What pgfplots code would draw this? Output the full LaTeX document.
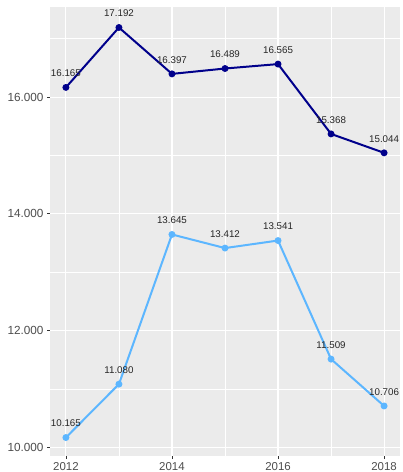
\documentclass[border=0pt]{standalone}
\usepackage{pgfplots}
\pgfplotsset{compat=1.18}
\usepackage{fontspec}
\setmainfont{Liberation Sans}
\definecolor{panel}{HTML}{EBEBEB}
\definecolor{navyline}{HTML}{00008B}
\definecolor{skyline}{HTML}{5CB6FF}
\definecolor{ticklab}{HTML}{4D4D4D}
\definecolor{tickcol}{HTML}{333333}
\begin{document}
\begin{tikzpicture}
\useasboundingbox (-50bp,-16bp) rectangle (353bp,456bp);
\begin{axis}[
  scale only axis,
  width=350bp, height=449bp,
  xmin=2011.7, xmax=2018.3,
  ymin=9.8487, ymax=17.5434,
  axis background/.style={fill=panel},
  axis line style={draw=none},
  xtick={2012,2014,2016,2018},
  minor xtick={2013,2015,2017},
  ytick={10,12,14,16},
  minor ytick={11,13,15,17},
  grid=both,
  major grid style={white, line width=1.1bp},
  minor grid style={white, line width=0.55bp},
  tick style={tickcol, line width=0.6bp},
  minor tick length=0pt,
  major tick length=3bp,
  tick align=outside,
  xtick pos=bottom, ytick pos=left,
  xticklabel style={font=\fontsize{11.5}{11.5}\selectfont, text=ticklab},
  yticklabel style={font=\fontsize{11.8}{11.8}\selectfont, text=ticklab},
  xticklabel={\pgfmathprintnumber[fixed,precision=0,1000 sep={},assume math mode=true]{\tick}},
  yticklabel={\pgfmathprintnumber[fixed,fixed zerofill,precision=3,assume math mode=true]{\tick}},
  nodes near coords={\pgfmathprintnumber[fixed,fixed zerofill,precision=3,assume math mode=true]{\pgfplotspointmeta}},
  every node near coord/.append style={anchor=center, yshift=14bp, font=\fontsize{9.8}{9.8}\selectfont, text=black!85, inner sep=0pt},
  point meta=y,
  clip=false,
]
\addplot[navyline, line width=2bp, mark=*, mark size=2.4bp, mark options={fill=navyline, draw=navyline}] coordinates {
(2012,16.165) (2013,17.192) (2014,16.397) (2015,16.489) (2016,16.565) (2017,15.368) (2018,15.044)};
\addplot[skyline, line width=2bp, mark=*, mark size=2.4bp, mark options={fill=skyline, draw=skyline}] coordinates {
(2012,10.165) (2013,11.080) (2014,13.645) (2015,13.412) (2016,13.541) (2017,11.509) (2018,10.706)};
\end{axis}
\end{tikzpicture}
\end{document}
